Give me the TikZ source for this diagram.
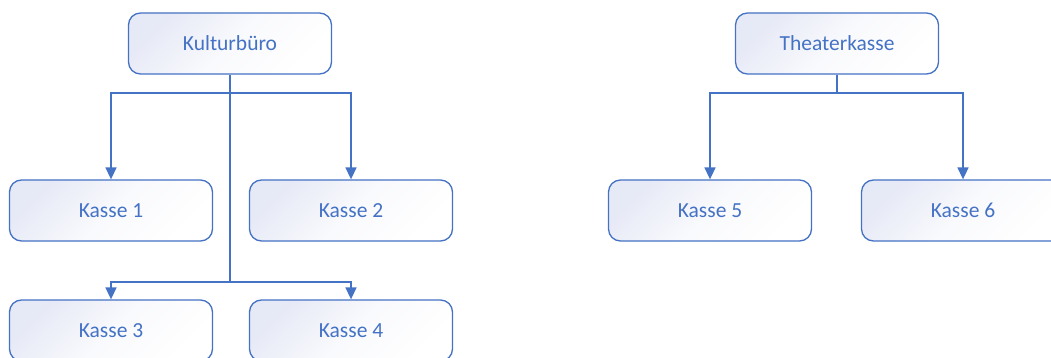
\documentclass[tikz,border=0pt]{standalone}
\usepackage{fontspec}
\setmainfont{Carlito}
\usetikzlibrary{arrows.meta}
\definecolor{orgblue}{RGB}{68,114,196}
\definecolor{orgfill}{RGB}{230,233,246}
\tikzset{
  unit/.style={rectangle, draw=orgblue, line width=1.3pt, rounded corners=12pt,
    minimum width=203pt, minimum height=61pt, inner sep=0pt,
    top color=orgfill, bottom color=white, middle color=white!75!orgfill, shading angle=45,
    text=orgblue, font=\fontsize{21.5}{25}\selectfont},
  link/.style={draw=orgblue, line width=1.6pt},
  arrowlink/.style={link, -{Triangle[width=11pt,length=12pt]}}
}
\begin{document}
\begin{tikzpicture}[x=1pt,y=-1pt]
  \useasboundingbox (0,0) rectangle (1051,358);
  \clip (0,0) rectangle (1051,358);
  % left organisation
  \node[unit] (kb) at (230,43.5) {Kulturbüro};
  \node[unit] (k1) at (111,210.5) {Kasse 1};
  \node[unit] (k2) at (351,210.5) {Kasse 2};
  \node[unit] (k3) at (111,330.5) {Kasse 3};
  \node[unit] (k4) at (351,330.5) {Kasse 4};
  \coordinate (j1) at (230,93);
  \coordinate (j2) at (230,282);
  \draw[link] (kb.south) -- (j1) -- (j2);
  \draw[arrowlink] (j1) -| (k1.north);
  \draw[arrowlink] (j1) -| (k2.north);
  \draw[arrowlink] (j2) -| (k3.north);
  \draw[arrowlink] (j2) -| (k4.north);
  % right organisation
  \node[unit] (tk) at (837,43.5) {Theaterkasse};
  \node[unit] (k5) at (710,210.5) {Kasse 5};
  \node[unit] (k6) at (963,210.5) {Kasse 6};
  \coordinate (j3) at (837,93);
  \draw[link] (tk.south) -- (j3);
  \draw[arrowlink] (j3) -| (k5.north);
  \draw[arrowlink] (j3) -| (k6.north);
\end{tikzpicture}
\end{document}
